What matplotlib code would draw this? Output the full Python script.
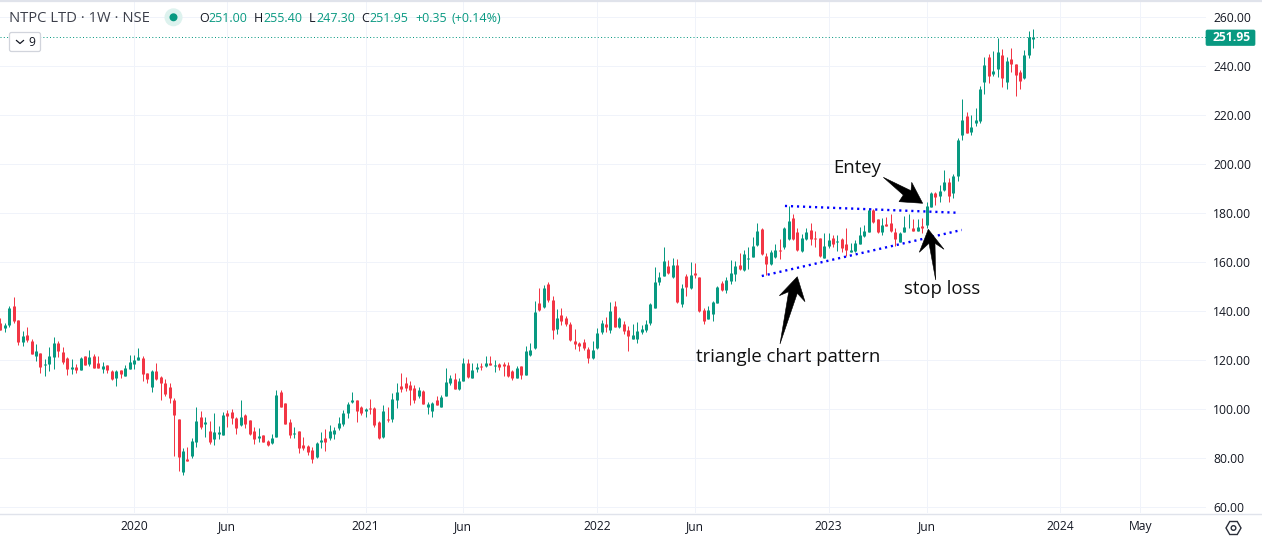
import matplotlib
matplotlib.use("Agg")
import matplotlib.pyplot as plt
from matplotlib.patches import FancyBboxPatch, Polygon, RegularPolygon, Circle

W, H_PX = 1262, 538

opens = [135.4,133.1,134.4,142.2,136.5,127.6,130.3,127.9,121.9,123.0,118.2,118.5,121.4,127.1,123.4,120.9,116.5,117.3,116.1,121.8,118.5,121.8,118.9,116.5,118.1,115.6,112.8,116.1,113.6,116.5,118.5,120.1,120.9,114.8,109.1,115.6,113.2,110.7,109.1,103.8,96.0,74.4,79.7,80.9,86.7,96.9,94.0,91.2,87.9,89.9,89.5,98.5,98.9,96.5,93.6,97.7,95.6,91.2,88.3,89.5,87.1,86.3,88.7,107.1,102.6,94.8,90.0,91.2,
85.4,85.1,83.5,80.6,86.7,88.4,88.4,90.0,92.4,94.1,98.6,103.0,103.9,101.0,99.4,100.6,100.6,94.9,88.8,96.1,96.1,103.9,109.6,110.8,110.0,108.8,105.5,107.5,101.0,99.4,103.9,101.0,105.5,110.8,112.4,108.3,111.6,119.0,112.8,116.5,117.7,117.7,119.0,117.7,118.5,118.5,118.1,115.7,112.8,117.7,114.0,122.2,125.1,143.4,141.8,151.2,144.7,132.8,138.5,137.3,134.9,127.9,127.1,127.5,124.7,
121.0,125.0,131.6,134.8,132.4,142.2,133.6,134.8,132.4,128.7,128.7,131.6,132.4,135.2,141.4,151.9,154.4,158.5,154.0,158.9,143.0,154.4,149.5,155.6,154.0,140.5,136.9,138.9,143.4,151.6,148.7,152.4,155.2,158.9,156.9,161.3,162.2,167.1,173.6,162.6,159.3,162.2,165.0,166.2,169.5,178.1,
172.3,164.6,169.5,173.2,169.9,169.9,161.7,166.6,169.9,168.4,169.5,167.4,164.2,164.6,167.4,170.7,172.3,181.3,177.6,172.3,175.6,176.0,172.3,168.3,172.3,174.3,174.0,172.8,174.8,175.2,182.5,188.3,187.0,189.5,192.7,188.3,
195.2,211.9,219.7,213.2,216.8,217.6,233.6,243.8,236.8,238.9,244.6,233.6,242.9,240.9,237.6,235.2,244.6,251.0]

highs = [137.3,135.1,142.2,145.8,136.5,131.8,133.6,128.6,126.7,123.0,120.5,125.4,129.5,127.9,125.4,121.4,120.5,118.5,121.4,121.8,124.2,122.6,121.8,119.3,118.1,116.1,116.1,116.1,118.1,122.2,122.2,125.0,121.8,114.8,116.1,118.9,113.6,112.4,110.7,104.6,96.0,84.2,84.6,88.3,100.9,99.3,96.9,95.2,98.5,93.2,98.9,99.7,100.1,96.9,103.8,98.1,95.6,92.8,92.4,89.5,87.5,89.9,107.9,107.9,102.6,96.0,92.8,91.2,
88.8,85.5,84.7,86.7,90.8,92.0,93.7,92.8,96.9,99.8,103.0,107.1,103.9,101.4,100.6,104.3,101.0,95.3,101.8,101.0,106.7,110.8,114.9,113.2,111.6,110.0,109.2,107.9,103.0,103.0,105.5,105.9,116.9,114.0,114.9,112.8,121.0,120.6,119.0,119.0,119.0,121.8,121.8,120.2,119.0,119.4,119.4,116.1,117.7,117.7,125.9,127.1,144.3,149.6,150.8,152.0,146.3,141.0,141.4,138.1,135.7,132.8,127.5,128.7,125.5,
127.9,133.2,136.5,137.7,143.8,144.2,137.7,136.1,134.0,134.8,135.6,134.4,136.5,143.4,158.1,156.0,166.2,160.9,161.8,161.3,151.1,155.2,160.1,159.7,154.0,141.4,142.2,144.2,150.3,152.4,154.0,160.9,160.5,163.8,165.0,166.2,170.3,176.0,174.0,163.8,165.0,167.5,169.5,174.4,183.0,179.7,
174.0,171.5,174.0,176.0,172.8,169.9,172.0,172.0,171.1,171.1,169.9,174.0,167.9,169.1,174.4,175.2,182.1,181.7,177.6,178.0,178.5,179.7,174.0,172.3,178.9,179.7,177.6,177.6,178.0,184.6,188.7,188.7,191.5,197.6,194.4,196.0,
210.7,226.6,221.3,220.1,222.9,231.9,243.8,245.0,246.2,251.5,247.0,243.8,247.4,240.9,238.5,246.6,254.4,255.4]

lows = [132.4,131.7,133.7,135.4,126.3,126.0,127.6,122.6,119.9,114.8,113.6,115.6,116.5,121.4,118.5,114.0,114.4,114.8,116.1,118.1,117.7,116.9,116.9,114.8,114.8,112.0,109.5,112.8,113.6,116.5,116.5,120.1,111.6,110.7,107.1,112.0,103.8,105.4,102.6,80.9,74.8,73.2,78.9,80.1,84.6,92.0,88.7,85.8,85.4,87.9,89.5,92.8,94.0,89.9,93.2,92.4,89.5,85.8,86.7,86.7,85.0,85.8,88.7,100.9,94.0,88.3,88.3,82.2,
83.5,81.4,78.2,80.2,84.3,83.0,87.5,87.9,91.6,93.3,96.5,102.6,94.9,97.7,96.9,98.1,92.8,87.9,88.4,94.9,94.9,100.6,107.1,107.5,101.8,102.6,104.7,102.2,98.2,96.9,101.8,101.0,105.5,110.0,108.3,107.9,111.6,112.8,112.8,115.3,116.1,117.3,118.1,115.3,116.1,113.6,113.2,112.0,112.8,112.4,114.0,121.8,124.7,140.2,141.4,143.8,128.7,130.8,134.5,134.0,127.9,124.7,123.9,124.3,119.0,
120.5,124.6,130.8,131.6,131.2,133.6,133.2,130.8,123.8,128.7,127.1,130.8,131.6,134.4,141.4,150.7,154.4,155.2,153.6,143.4,141.8,146.3,149.1,153.6,139.7,134.8,136.9,136.1,143.4,148.3,147.5,151.1,152.4,156.9,156.5,157.3,162.2,166.7,163.0,154.8,158.9,161.8,161.3,165.4,169.1,169.1,
164.6,164.2,169.1,167.0,166.2,162.1,161.7,165.8,166.2,164.6,164.2,162.6,164.2,164.2,167.4,170.3,172.3,176.0,172.0,171.1,174.8,172.3,166.6,168.3,172.3,174.0,172.8,172.8,171.9,174.0,182.5,183.4,184.6,189.1,184.6,186.2,
193.2,209.9,212.7,211.9,215.6,217.0,228.7,233.2,236.0,235.6,231.5,230.7,237.6,227.9,230.7,234.8,243.3,247.3]

closes = [132.4,134.4,141.4,136.0,127.6,129.9,128.3,122.6,123.8,117.3,118.5,121.8,127.1,123.8,119.3,116.5,117.3,116.1,120.9,118.1,121.4,116.9,116.9,117.7,116.1,112.4,115.6,114.4,116.9,119.3,120.1,121.4,114.4,112.4,115.6,112.4,110.7,106.3,104.6,97.7,80.5,83.0,78.9,87.1,95.2,92.8,94.8,86.7,90.7,90.7,97.7,97.3,96.5,92.4,96.9,94.0,89.9,87.9,89.1,86.7,85.4,88.3,105.8,100.9,94.0,89.5,90.3,84.2,
84.4,82.6,79.8,86.3,87.5,86.7,91.2,91.6,94.5,98.6,102.2,103.9,99.4,98.6,100.2,100.2,93.7,88.4,99.4,95.7,104.3,107.1,108.3,108.8,107.9,103.9,107.9,102.2,102.2,102.6,101.8,105.1,111.2,112.8,108.3,111.6,119.0,113.2,116.1,117.3,117.3,119.0,118.1,118.1,117.3,117.7,113.6,112.8,116.9,114.0,123.9,124.3,139.8,140.6,149.6,144.7,132.4,137.3,136.1,134.9,128.3,126.7,125.9,125.1,121.0,
124.2,131.2,135.2,133.6,140.1,133.6,137.3,132.0,129.9,130.3,132.0,132.8,134.8,143.0,151.9,154.0,160.5,155.6,158.9,143.8,149.5,149.9,154.8,154.8,140.1,136.1,140.5,143.8,149.9,148.7,152.8,155.6,158.5,157.3,163.4,161.7,166.7,172.8,163.4,159.3,164.2,165.0,164.8,174.0,176.9,169.5,
165.0,169.9,172.3,169.5,169.6,162.6,166.6,169.1,167.4,168.7,165.8,165.0,165.0,167.9,171.1,172.8,181.3,176.4,172.3,175.2,174.8,172.8,169.5,171.9,174.4,174.6,172.8,174.4,174.0,183.0,188.3,186.6,189.1,192.7,187.0,195.2,
209.9,218.1,212.7,215.2,218.1,230.7,240.5,236.0,238.0,245.8,235.2,242.1,240.9,236.4,234.0,244.6,251.9,251.95]

price_ticks = [60,80,100,120,140,160,180,200,220,240,260]
time_positions = [30,51,82,104,134,156,186,208,238,256]
time_labels = ["2020","Jun","2021","Jun","2022","Jun","2023","Jun","2024","May"]

last_price = 251.95
upper_line_x, upper_line_y = [176.2, 215.3], [183.0, 180.2]
lower_line_x, lower_line_y = [171.0, 215.9], [154.4, 173.2]

GREEN, RED = "#089981", "#F23645"
GRID, AXIS, INK = "#F0F3FA", "#E0E3EB", "#131722"
FONT = ["Open Sans", "DejaVu Sans"]
plt.rcParams["font.family"] = FONT

PX_PER_BAR = 4.4526
X0 = 0.4
PT = 0.72  # one pixel in points at dpi 100
fig = plt.figure(figsize=(W/100, H_PX/100), dpi=100, facecolor="white")
PLOT_R, PLOT_B = 1206, 513
ax = fig.add_axes([0, 1-PLOT_B/H_PX, PLOT_R/W, PLOT_B/H_PX])
ax.set_xlim(-X0/PX_PER_BAR, (PLOT_R-X0)/PX_PER_BAR)
ax.set_ylim(57.67, 267.06)
for s in ax.spines.values():
    s.set_visible(False)
ax.set_axisbelow(True)
ax.grid(True, color=GRID, lw=PT)
ax.set_yticks(price_ticks)
ax.set_yticklabels([f"{v:.2f}" for v in price_ticks], fontsize=8.7, color=INK)
ax.yaxis.tick_right()
ax.set_xticks(time_positions)
ax.set_xticklabels(time_labels, fontsize=8.7, color=INK)
ax.tick_params(length=0)
ax.tick_params(axis="y", pad=5)
ax.tick_params(axis="x", pad=5)

idx = list(range(len(opens)))
colors = [GREEN if c >= o else RED for o, c in zip(opens, closes)]
body_lo = [min(o, c) for o, c in zip(opens, closes)]
body_hi = [max(o, c) for o, c in zip(opens, closes)]
ax.vlines(idx, lows, highs, colors=colors, lw=PT, zorder=3)
ax.vlines(idx, body_lo, body_hi, colors=colors, lw=3*PT, capstyle="butt", zorder=4)
ax.axhline(last_price, color=GREEN, lw=PT, ls=(0, (1.0, 2.3)), zorder=2)

dots = dict(color="#0000FF", lw=1.7, ls=(0, (0.9, 1.65)), zorder=6)
ax.plot(upper_line_x, upper_line_y, **dots)
ax.plot(lower_line_x, lower_line_y, **dots)

# overlay in pixel coordinates for chrome and hand-drawn annotations
ov = fig.add_axes([0, 0, 1, 1], facecolor="none")
ov.set_xlim(0, W)
ov.set_ylim(H_PX, 0)
ov.axis("off")
ov.plot([0, W], [PLOT_B+0.5, PLOT_B+0.5], color=AXIS, lw=1.0)
ov.plot([0, W], [0.5, 0.5], color=AXIS, lw=1.6)

arrow_triangle = [(797.3,276.7),(805,301.7),(797.3,293.3),(780,344),(788.7,291.7),(779.3,295.7)]
arrow_entry = [(922.7,203.3),(899,201.7),(903.3,195),(883.3,177.3),(911,190.7),(911.7,182.3)]
arrow_stop = [(928.3,229.3),(944,249.3),(935,243.3),(935.7,280),(929,243.3),(919.3,252.3)]
for pts in (arrow_triangle, arrow_entry, arrow_stop):
    ov.add_patch(Polygon(pts, closed=True, facecolor="black", edgecolor="black", lw=0.4, zorder=7))

note = dict(fontsize=13.35, color="#111111", va="center", ha="left", zorder=8)
ov.text(833, 168, "Entey", **note)
ov.text(904, 289.5, "stop loss", **note)
ov.text(696, 357.5, "triangle chart pattern", **note)

# last-price tag
ov.add_patch(FancyBboxPatch((1206, 30), 49, 15.5, boxstyle="round,pad=0,rounding_size=1.5",
                            facecolor=GREEN, edgecolor=GREEN, lw=0.5, zorder=5))
ov.text(1232, 37.8, "251.95", color="white", fontsize=8.7, fontweight="bold", ha="center", va="center", zorder=6)

# header
ov.text(9, 18, "NTPC LTD · 1W · NSE", fontsize=10.6, color="#3C3F4A", va="center", ha="left")
ov.add_patch(Circle((173.5, 17.3), 9, facecolor="#DDF2EE", edgecolor="none"))
ov.add_patch(Circle((173.5, 17.3), 4, facecolor=GREEN, edgecolor="none"))
header_parts = [(199, "O", INK), (208, "251.00", GREEN), (254, "H", INK), (263, "255.40", GREEN),
                (309, "L", INK), (316, "247.30", GREEN), (361, "C", INK), (369, "251.95", GREEN),
                (415, "+0.35", GREEN), (451, "(+0.14%)", GREEN)]
for x, t, c in header_parts:
    ov.text(x, 18.5, t, fontsize=9.0, color=c, va="center", ha="left")

# collapsed-indicators button
ov.add_patch(FancyBboxPatch((9.5, 32.5), 31, 19, boxstyle="round,pad=0,rounding_size=2",
                            facecolor="white", edgecolor="#D1D4DC", lw=0.9, zorder=5))
ov.plot([16.5, 20, 23.5], [40.5, 43.5, 40.5], color=INK, lw=0.9, zorder=6)
ov.text(32, 42, "9", fontsize=8.7, color=INK, ha="center", va="center", zorder=6)

# settings icon
ov.add_patch(RegularPolygon((1233.5, 528), 6, radius=7.5, orientation=0.5236, facecolor="none",
                            edgecolor="#2A2E39", lw=1.0))
ov.add_patch(Circle((1233.5, 528), 2.3, facecolor="none", edgecolor="#2A2E39", lw=1.0))

fig.savefig("out.png", dpi=100, facecolor="white")
